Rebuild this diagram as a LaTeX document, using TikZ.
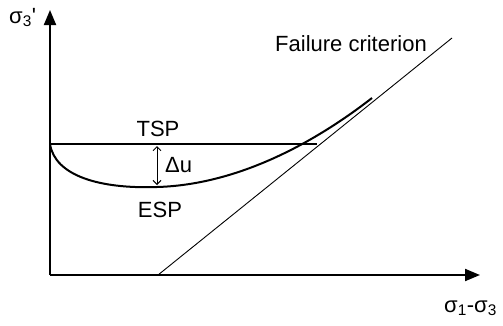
\documentclass[tikz,border=0pt]{standalone}
\usepackage{fontspec}
\newfontfamily\arialf{Liberation Sans}
\usetikzlibrary{arrows.meta}
\begin{document}
\begin{tikzpicture}[x=1pt,y=-1pt,
  lbl/.style={font=\arialf\fontsize{22}{26}\selectfont, inner sep=0pt},
  axis/.style={line width=2pt, -{Triangle[length=15pt,width=12pt]}},
  tsp/.style={line width=1.5pt},
  esp/.style={line width=2pt},
  fail/.style={line width=0.9pt},
  du/.style={line width=1pt, {Straight Barb[length=4pt,width=8pt]}-{Straight Barb[length=4pt,width=8pt]}}]
\useasboundingbox (0,0) rectangle (503,325);
\coordinate (O) at (50,275);
\coordinate (Ytip) at (50,10);
\coordinate (Xtip) at (480,275);
\draw[axis] (O) -- (Ytip);
\draw[axis] (O) -- (Xtip);
\node[lbl, anchor=base west] (ylab) at (9,23) {σ\textsubscript{3}'};
\node[lbl, anchor=base west] (xlab) at (444,312) {σ\textsubscript{1}-σ\textsubscript{3}};
\coordinate (F0) at (158,275);
\coordinate (F1) at (452,38);
\draw[fail] (F0) -- (F1);
\node[lbl, anchor=base west] (flab) at (275,51) {Failure criterion};
\coordinate (T0) at (50,144);
\coordinate (T1) at (317,144);
\draw[tsp] (T0) -- (T1);
\node[lbl, anchor=base] (tsp) at (158,136) {TSP};
\coordinate (Emin) at (157,187);
\coordinate (Eend) at (372,98);
\draw[esp] (T0) .. controls (55,176) and (100,189) .. (Emin) .. controls (230,185) and (305,150) .. (Eend);
\node[lbl, anchor=base] (esp) at (160,217) {ESP};
\coordinate (D0) at (157,146);
\coordinate (D1) at (157,185);
\draw[du] (D0) -- (D1);
\node[lbl, anchor=base west] (dlab) at (165,172) {Δu};
\end{tikzpicture}
\end{document}
